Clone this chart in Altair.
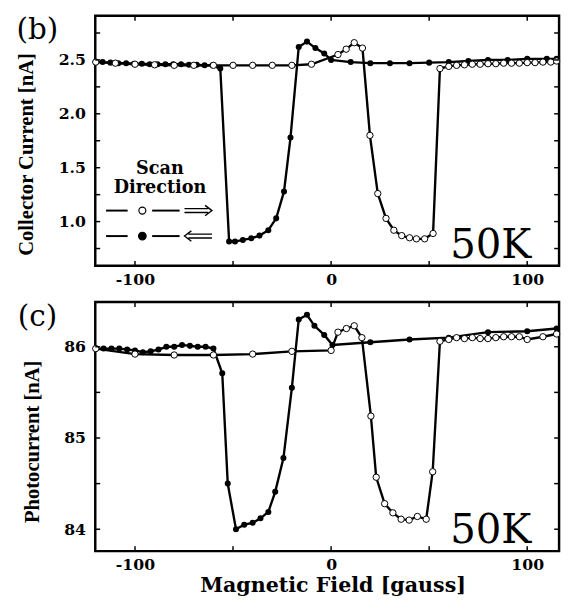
import altair as alt
import pandas as pd

# ---------------- panel (b): collector current [nA] ----------------
b_up_field = [-120, -110, -100, -90, -80, -70, -60, -50, -40, -30, -20, -10,
              3.5, 7.7, 11.8, 16, 19.8, 23.8, 28, 32, 36, 40, 43.5, 47.7, 52,
              55.5, 60, 64, 68, 72, 76, 80, 84, 88, 92, 96, 100, 104, 108, 112, 115]
b_up_current = [2.48, 2.47, 2.46, 2.455, 2.45, 2.45, 2.45, 2.45, 2.45, 2.45, 2.45, 2.46,
                2.55, 2.60, 2.66, 2.61, 1.80, 1.26, 1.03, 0.92, 0.87, 0.85, 0.84, 0.84, 0.89,
                2.42, 2.44, 2.45, 2.455, 2.46, 2.46, 2.465, 2.465, 2.47, 2.47, 2.47, 2.475,
                2.475, 2.48, 2.48, 2.49]
b_down_field = [115, 110, 100, 90, 80, 70, 60, 50, 40, 30, 20, 10, 0,
                -3.5, -8, -12.3, -16.5, -20.7, -24, -28, -32, -36.5, -40.7, -45, -49, -52,
                -56.5, -60.5, -64.5, -68.5, -72.5, -76.5, -80.5, -84.5, -88.5, -92.5,
                -96.5, -100.5, -104.5, -108.5, -112.5, -116.5, -120]
b_down_current = [2.51, 2.51, 2.51, 2.50, 2.50, 2.49, 2.48, 2.475, 2.47, 2.47, 2.47, 2.48, 2.50,
                  2.56, 2.61, 2.67, 2.62, 1.78, 1.28, 1.03, 0.92, 0.87, 0.845, 0.83, 0.815, 0.815,
                  2.42, 2.45, 2.45, 2.455, 2.455, 2.46, 2.46, 2.46, 2.46, 2.46, 2.465, 2.465,
                  2.47, 2.47, 2.475, 2.48, 2.48]

# ---------------- panel (c): photocurrent [nA] ----------------
c_up_field = [-120, -100, -80, -60, -40, -20, 0, 3.5, 7.8, 11.8, 15.7,
              20.3, 23, 27.3, 31.5, 35.7, 39.8, 44, 48.5, 51.8,
              55.5, 60, 64, 68, 72, 76, 80, 84, 88, 92, 96, 100, 108, 115]
c_up_current = [85.98, 85.92, 85.91, 85.91, 85.92, 85.95, 85.96, 86.16, 86.20, 86.23, 86.10,
                85.24, 84.57, 84.28, 84.18, 84.11, 84.10, 84.14, 84.11, 84.63,
                86.06, 86.08, 86.10, 86.09, 86.10, 86.09, 86.09, 86.10, 86.11, 86.11, 86.11,
                86.08, 86.11, 86.14]
c_down_field = [115, 100, 80, 60, 40, 20, 0.7, -3.5, -8.5, -12.3, -16.5,
                -20, -24.3, -28.5, -32, -36, -40, -44.3, -48.5, -52.7, -55.5,
                -60, -64, -68, -72, -76, -80, -84, -88, -92, -96, -100, -104, -108, -112, -116, -120]
c_down_current = [86.20, 86.17, 86.16, 86.10, 86.08, 86.05, 86.02, 86.13, 86.23, 86.35, 86.30,
                  85.55, 84.78, 84.41, 84.19, 84.12, 84.07, 84.05, 84.00, 84.50, 85.71,
                  85.98, 86.00, 86.00, 86.01, 86.02, 86.00, 86.00, 85.97, 85.95, 85.94,
                  85.96, 85.97, 85.98, 85.98, 85.98, 85.98]

x_domain = [-120.25, 116.25]
x_labels = [-100, 0, 100]
x_ticks = [-100, -50, 0, 50, 100]
b_domain = [0.59, 2.91]
b_labels = [1.0, 1.5, 2.0, 2.5]
b_ticks = [0.75, 1.0, 1.25, 1.5, 1.75, 2.0, 2.25, 2.5, 2.75]
c_domain = [83.76, 86.49]
c_labels = [84, 85, 86]
c_ticks = [84, 84.5, 85, 85.5, 86]

W = 473
TICK_FONT = "DejaVu Serif"
SERIF = "Liberation Serif"
# double-line arrow glyphs drawn as point shapes (unit square path)
ARROW_R = "M-1,-0.14 L0.72,-0.14 M-1,0.14 L0.72,0.14 M0.5,-0.38 L1,0 L0.5,0.38"
ARROW_L = "M1,-0.14 L-0.72,-0.14 M1,0.14 L-0.72,0.14 M-0.5,-0.38 L-1,0 L-0.5,0.38"


def make_df(f, v, scan):
    return pd.DataFrame({"field": f, "value": v, "scan": scan, "idx": list(range(len(f)))})


def panel(up_f, up_v, dn_f, dn_v, ydom, ylab, yticks, yfmt, ytitle, letter,
          xtitle, H, titleY, legend=False):
    xs = alt.Scale(domain=x_domain, nice=False, zero=False)
    ys = alt.Scale(domain=ydom, nice=False, zero=False)
    xaxis = alt.Axis(values=x_labels, labelExpr="'' + datum.value", ticks=False,
                     domain=False, grid=False, labelFont=TICK_FONT, labelFontWeight="bold",
                     labelFontSize=16, labelPadding=6, labelColor="black",
                     title=xtitle, titleFont=TICK_FONT, titleFontWeight="bold",
                     titleFontSize=21, titleColor="black", titlePadding=2, titleX=242)
    yaxis = alt.Axis(values=ylab, format=yfmt, ticks=False, domain=False, grid=False,
                     labelFont=TICK_FONT, labelFontWeight="bold", labelFontSize=16,
                     labelPadding=10, labelColor="black",
                     title=ytitle, titleFont=SERIF, titleFontWeight="bold",
                     titleFontSize=21, titleColor="black", titlePadding=22, titleY=titleY)

    def X(f):
        return alt.X(f, scale=xs, axis=xaxis)

    def Y(f):
        return alt.Y(f, scale=ys, axis=yaxis)

    up = make_df(up_f, up_v, "up")
    dn = make_df(dn_f, dn_v, "down")

    lines = []
    for d in (up, dn):
        lines.append(alt.Chart(d).mark_line(color="black", strokeWidth=2.4).encode(
            x=X("field:Q"), y=Y("value:Q"), order="idx:Q"))
    filled = alt.Chart(dn).mark_point(shape="circle", filled=True, color="black",
                                      size=38, opacity=1).encode(
        x=X("field:Q"), y=Y("value:Q"))
    opened = alt.Chart(up).mark_point(shape="circle", filled=True, fill="white",
                                      stroke="black", strokeWidth=1, size=42,
                                      opacity=1).encode(
        x=X("field:Q"), y=Y("value:Q"))

    xt = pd.DataFrame({"field": x_ticks})
    yt = pd.DataFrame({"value": yticks})
    tk = dict(color="black", strokeWidth=1.5)
    ticks = [
        alt.Chart(xt).mark_rule(**tk).encode(x=X("field:Q"), y=alt.value(0), y2=alt.value(5)),
        alt.Chart(xt).mark_rule(**tk).encode(x=X("field:Q"), y=alt.value(H - 5), y2=alt.value(H)),
        alt.Chart(yt).mark_rule(**tk).encode(y=Y("value:Q"), x=alt.value(0), x2=alt.value(5)),
        alt.Chart(yt).mark_rule(**tk).encode(y=Y("value:Q"), x=alt.value(W - 5), x2=alt.value(W)),
    ]

    one = pd.DataFrame({"a": [0]})
    texts = [
        alt.Chart(one).mark_text(text=letter, font="DejaVu Serif", fontSize=30,
                                 align="center", baseline="alphabetic", color="black").encode(
            x=alt.value(-59), y=alt.value(24)),
        alt.Chart(one).mark_text(text="50K", font="DejaVu Serif", fontSize=41,
                                 align="left", baseline="alphabetic", color="black").encode(
            x=alt.value(362), y=alt.value(H - 8)),
    ]

    leg = []
    if legend:
        ts = dict(font="DejaVu Serif", fontWeight="bold", fontSize=18, align="center",
                  baseline="middle", color="black")
        leg.append(alt.Chart(one).mark_text(text="Scan", **ts).encode(
            x=alt.value(66), y=alt.value(156)))
        leg.append(alt.Chart(one).mark_text(text="Direction", **ts).encode(
            x=alt.value(66), y=alt.value(176)))
        for yy, fill, arrow in ((198.7, "white", ARROW_R), (224.7, "black", ARROW_L)):
            for a, b in ((11, 33), (58, 86)):
                leg.append(alt.Chart(one).mark_rule(color="black", strokeWidth=2).encode(
                    x=alt.value(a), x2=alt.value(b), y=alt.value(yy)))
            leg.append(alt.Chart(one).mark_point(shape="circle", filled=True, fill=fill,
                                                 stroke="black", strokeWidth=1.2,
                                                 size=60 if fill == "black" else 50,
                                                 opacity=1).encode(
                x=alt.value(48), y=alt.value(yy)))
            leg.append(alt.Chart(one).mark_point(shape=arrow, filled=False, color="black",
                                                 strokeWidth=1.4, size=784,
                                                 opacity=1).encode(
                x=alt.value(105), y=alt.value(yy)))

    return alt.layer(*lines, filled, opened, *ticks, *texts, *leg).properties(
        width=W, height=H)


top = panel(b_up_field, b_up_current, b_down_field, b_down_current, b_domain, b_labels,
            b_ticks, ".1f", "Collector Current [nA]", "(b)", None, 255, 141, legend=True)
bottom = panel(c_up_field, c_up_current, c_down_field, c_down_current, c_domain, c_labels,
               c_ticks, "d", "Photocurrent [nA]", "(c)", "Magnetic Field [gauss]", 254, 142)

chart = alt.vconcat(top, bottom, spacing=11).properties(
    padding={"left": 6, "top": 0, "right": 0, "bottom": 0},
    background="white",
).configure_view(stroke="black", strokeWidth=2.5)

chart.save("out.html", embed_options={"renderer": "svg", "actions": False})
